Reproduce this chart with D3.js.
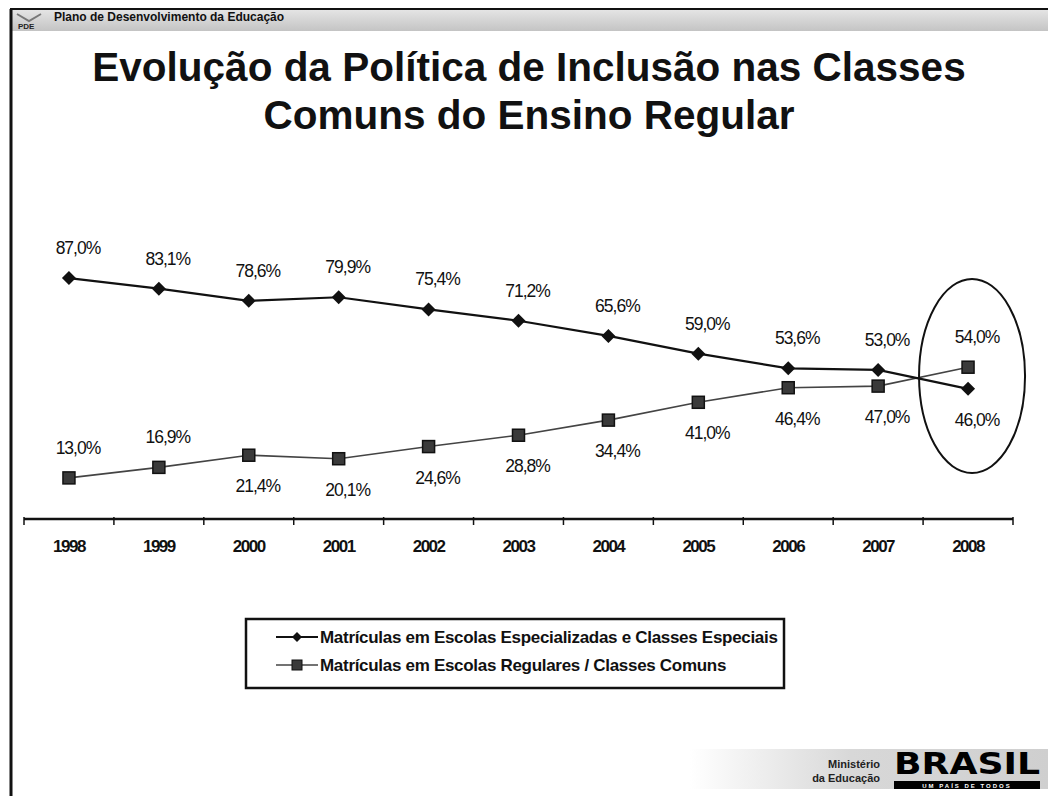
<!DOCTYPE html>
<html><head><meta charset="utf-8">
<script src="https://cdn.jsdelivr.net/npm/d3@7"></script>
<style>body{margin:0;background:#fff;overflow:hidden}</style>
</head><body>
<svg id="c" width="1048" height="796"></svg>
<script>
const years = ["1998","1999","2000","2001","2002","2003","2004","2005","2006","2007","2008"];
const especiais = [87.0,83.1,78.6,79.9,75.4,71.2,65.6,59.0,53.6,53.0,46.0];
const comuns = [13.0,16.9,21.4,20.1,24.6,28.8,34.4,41.0,46.4,47.0,54.0];
const especiaisLabelPos = ["above","above","above","above","above","above","above","above","above","above","below"];
const comunsLabelPos = ["above","above","below","below","below","below","below","below","below","below","above"];
const seriesNames = ["Matrículas em Escolas Especializadas e Classes Especiais","Matrículas em Escolas Regulares / Classes Comuns"];
const titleLines = ["Evolução da Política de Inclusão nas Classes","Comuns do Ensino Regular"];
const headerText = "Plano de Desenvolvimento da Educação";
const highlightYear = "2008";

const svg = d3.select("#c");
const W = 1048, H = 796;
const FONT = "Liberation Sans, Arial, sans-serif";

// header bar
const defs = svg.append("defs");
const hg = defs.append("linearGradient").attr("id","hg").attr("x1",0).attr("x2",0).attr("y1",0).attr("y2",1);
hg.append("stop").attr("offset",0).attr("stop-color","#e4e4e4");
hg.append("stop").attr("offset",1).attr("stop-color","#c4c4c4");
svg.append("rect").attr("x",10).attr("y",10).attr("width",W-10).attr("height",21).attr("fill","url(#hg)");
svg.append("line").attr("x1",10).attr("x2",W).attr("y1",9).attr("y2",9).attr("stroke","#111").attr("stroke-width",2);
svg.append("line").attr("x1",11).attr("x2",11).attr("y1",9).attr("y2",H).attr("stroke","#111").attr("stroke-width",3);
// PDE mini logo
svg.append("path").attr("d","M17 14 L29 21 L41 14").attr("fill","none").attr("stroke","#777").attr("stroke-width",2);
svg.append("text").attr("x",18).attr("y",29).attr("font-family",FONT).attr("font-weight","bold")
  .attr("font-size",8).attr("fill","#222").text("PDE");
svg.append("text").attr("x",54).attr("y",21).attr("font-family",FONT).attr("font-weight","bold")
  .attr("font-size",12).attr("fill","#111").text(headerText);

// title
svg.append("g").selectAll("text").data(titleLines).join("text")
  .attr("x",529).attr("y",(d,i)=>81+i*48).attr("text-anchor","middle")
  .attr("font-family",FONT).attr("font-weight","bold").attr("font-size",40.5).attr("fill","#111")
  .text(d=>d);

// scales
const x = d3.scaleBand().domain(years).range([24,1013]).padding(0);
const y = d3.scaleLinear().domain([0,100]).range([513,243]);
const cx = d => x(d) + x.bandwidth()/2;

// x axis
const axisY = 519;
const ax = svg.append("g").attr("transform",`translate(0,${axisY})`);
ax.append("line").attr("x1",24).attr("x2",1013).attr("stroke","#111").attr("stroke-width",2.5);
const bounds = years.map(d=>x(d)).concat([x(years[years.length-1])+x.bandwidth()]);
ax.selectAll("line.tk").data(bounds).join("line").attr("class","tk")
  .attr("x1",d=>d).attr("x2",d=>d).attr("y1",-2).attr("y2",6).attr("stroke","#111").attr("stroke-width",1.5);
ax.selectAll("text").data(years).join("text")
  .attr("x",d=>cx(d)).attr("y",33).attr("text-anchor","middle")
  .attr("font-family",FONT).attr("font-weight","bold").attr("font-size",17)
  .attr("letter-spacing",-1.5).attr("fill","#111").text(d=>d);

const fmt = v => d3.format(".1f")(v).replace(".",",") + "%";

// lines
const line = d3.line().x((d,i)=>cx(years[i])).y(d=>y(d));
svg.append("path").datum(comuns).attr("d",line).attr("fill","none").attr("stroke","#444").attr("stroke-width",1.6);
svg.append("path").datum(especiais).attr("d",line).attr("fill","none").attr("stroke","#111").attr("stroke-width",2.2);

// markers
const diamond = s => `M0,${-s} L${s},0 L0,${s} L${-s},0 Z`;
svg.append("g").selectAll("path").data(especiais).join("path")
  .attr("transform",(d,i)=>`translate(${cx(years[i])},${y(d)})`)
  .attr("d",diamond(7)).attr("fill","#111");
svg.append("g").selectAll("rect").data(comuns).join("rect")
  .attr("x",(d,i)=>cx(years[i])-6).attr("y",d=>y(d)-6).attr("width",12).attr("height",12)
  .attr("fill","#3a3a3a").attr("stroke","#111").attr("stroke-width",1.5);

// labels
function labels(vals,pos){
  svg.append("g").selectAll("text").data(vals).join("text")
    .attr("x",(d,i)=>cx(years[i])+9)
    .attr("y",(d,i)=>pos[i]==="above" ? y(d)-24 : y(d)+37)
    .attr("text-anchor","middle").attr("font-family",FONT).attr("font-size",17.5)
    .attr("letter-spacing",-1).attr("fill","#111").text(d=>fmt(d));
}
labels(especiais,especiaisLabelPos);
labels(comuns,comunsLabelPos);

// highlight ellipse
const hx = cx(highlightYear);
svg.append("ellipse").attr("cx",hx+4).attr("cy",(y(especiais[10])+y(comuns[10]))/2-2)
  .attr("rx",53).attr("ry",97).attr("fill","none").attr("stroke","#111").attr("stroke-width",2);

// legend
const lg = svg.append("g").attr("transform","translate(246,619)");
lg.append("rect").attr("width",538).attr("height",69).attr("fill","#fff").attr("stroke","#111").attr("stroke-width",2.5);
seriesNames.forEach((n,i)=>{
  const yy = 18 + i*28;
  lg.append("line").attr("x1",30).attr("x2",72).attr("y1",yy).attr("y2",yy)
    .attr("stroke",i===0?"#111":"#444").attr("stroke-width",i===0?2.2:1.6);
  if(i===0) lg.append("path").attr("transform",`translate(51,${yy})`).attr("d",diamond(5)).attr("fill","#111");
  else lg.append("rect").attr("x",46).attr("y",yy-5).attr("width",10).attr("height",10).attr("fill","#3a3a3a").attr("stroke","#111");
  lg.append("text").attr("x",74).attr("y",yy+6).attr("font-family",FONT).attr("font-size",17)
    .attr("font-weight","bold").attr("letter-spacing",-0.3).attr("fill","#111").text(n);
});

// footer
const fg = defs.append("linearGradient").attr("id","fg").attr("x1",0).attr("x2",1);
fg.append("stop").attr("offset",0).attr("stop-color","#fff");
fg.append("stop").attr("offset",0.45).attr("stop-color","#d8d8d8");
fg.append("stop").attr("offset",1).attr("stop-color","#cfcfcf");
svg.append("rect").attr("x",690).attr("y",749).attr("width",W-690).attr("height",40).attr("fill","url(#fg)");
svg.append("text").attr("x",880).attr("y",768).attr("text-anchor","end").attr("font-family",FONT)
  .attr("font-size",11).attr("font-weight","bold").attr("fill","#222").text("Ministério");
svg.append("text").attr("x",880).attr("y",782).attr("text-anchor","end").attr("font-family",FONT)
  .attr("font-size",11).attr("font-weight","bold").attr("fill","#222").text("da Educação");
svg.append("text").attr("x",894).attr("y",774).attr("font-family","DejaVu Sans, sans-serif")
  .attr("font-size",30).attr("font-weight","bold").attr("fill","#000")
  .attr("textLength",146).attr("lengthAdjust","spacingAndGlyphs").text("BRASIL");
svg.append("rect").attr("x",894).attr("y",781).attr("width",146).attr("height",8).attr("fill","#000");
svg.append("text").attr("x",967).attr("y",788).attr("text-anchor","middle").attr("font-family",FONT)
  .attr("font-size",6).attr("font-weight","bold").attr("fill","#fff").attr("letter-spacing",2).text("UM PAÍS DE TODOS");
</script>
</body></html>
